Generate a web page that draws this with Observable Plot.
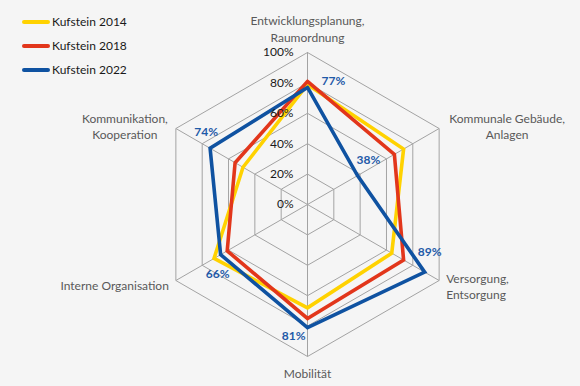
<!DOCTYPE html>
<html>
<head>
<meta charset="utf-8">
<script src="https://cdn.jsdelivr.net/npm/d3@7"></script>
<script src="https://cdn.jsdelivr.net/npm/@observablehq/plot@0.6"></script>
<style>
  html, body { margin: 0; padding: 0; background: #f5f5f5; }
  #wrap { position: relative; width: 580px; height: 386px; font-family: Lato, "Open Sans", sans-serif; }
  #legend { position: absolute; left: 0; top: 0; }
  .item { position: absolute; left: 22px; height: 16px; white-space: nowrap; font-size: 12px; color: #1a1a1a; }
  .item .sw { position: absolute; left: 0; top: 6px; width: 28px; height: 4px; border-radius: 2px; }
  .item .lb { position: absolute; left: 30px; top: 0; line-height: 16px; }
</style>
</head>
<body>
<div id="wrap"><div id="chart"></div><div id="legend"></div></div>
<script>
// ---- data ----
const axes = ["Entwicklungsplanung,\nRaumordnung", "Kommunale Gebäude,\nAnlagen", "Versorgung,\nEntsorgung", "Mobilität", "Interne Organisation", "Kommunikation,\nKooperation"];
const seriesNames = ["Kufstein 2014", "Kufstein 2018", "Kufstein 2022"];
const values2014 = [0.79, 0.73, 0.64, 0.68, 0.71, 0.49];
const values2018 = [0.81, 0.66, 0.73, 0.75, 0.61, 0.55];
const values2022 = [0.77, 0.38, 0.89, 0.81, 0.66, 0.74];
const tickValues = [0, 0.2, 0.4, 0.6, 0.8, 1.0];
const tickLabels = ["0%", "20%", "40%", "60%", "80%", "100%"];
const dataLabels2022 = ["77%", "38%", "89%", "81%", "66%", "74%"];

// ---- styles / layout ----
const colors = ["#ffd200", "#e2361b", "#0f52a1"];
const seriesValues = [values2014, values2018, values2022];
const W = 580, H = 386, CX = 307, CY = 204, R = 152;
// axis label placement (anchor, dx, dy, lineAnchor)
const axisLabelStyle = [
  {anchor: "middle", dx: 0, dy: -11, la: "bottom"},
  {anchor: "middle", dx: 68, dy: -3, la: "middle"},
  {anchor: "start", dx: 7, dy: 5, la: "middle"},
  {anchor: "middle", dx: 0, dy: 10, la: "top"},
  {anchor: "end", dx: -7, dy: 4, la: "middle"},
  {anchor: "middle", dx: -51, dy: -3, la: "middle"}
];
const dataLabelStyle = [
  {anchor: "start", dx: 14, dy: -6},
  {anchor: "start", dx: -1, dy: -15},
  {anchor: "middle", dx: 5, dy: -20},
  {anchor: "end", dx: -2, dy: 9},
  {anchor: "middle", dx: -3, dy: 19},
  {anchor: "middle", dx: -4, dy: -16}
];

const ang = i => i * Math.PI / 3;
const px = (i, r) => r * Math.sin(ang(i));
const py = (i, r) => r * Math.cos(ang(i));

// grid hexagons
const gridRings = tickValues.filter(t => t > 0).flatMap(t =>
  d3.range(7).map(k => ({t, x: px(k % 6, t), y: py(k % 6, t)})));
const spokes = axes.map((a, i) => ({x1: 0, y1: 0, x2: px(i, 1), y2: py(i, 1)}));
const seriesPts = seriesNames.flatMap((s, si) =>
  d3.range(7).map(k => ({s, x: px(k % 6, seriesValues[si][k % 6]), y: py(k % 6, seriesValues[si][k % 6])})));

const marks = [
  Plot.line(gridRings, {x: "x", y: "y", z: "t", stroke: "#a3a3a3", strokeWidth: 1}),
  Plot.link(spokes, {x1: "x1", y1: "y1", x2: "x2", y2: "y2", stroke: "#a3a3a3", strokeWidth: 1}),
  Plot.line(seriesPts, {x: "x", y: "y", z: "s", stroke: "s", strokeWidth: 3.6, strokeLinejoin: "miter", strokeMiterlimit: 10}),
  Plot.text(tickValues, {x: () => 0, y: d => d, text: (d, i) => tickLabels[i], textAnchor: "end", dx: -14, fill: "#1a1a1a", fontSize: 12})
];
axes.forEach((a, i) => {
  const st = axisLabelStyle[i];
  marks.push(Plot.text([a], {x: () => px(i, 1), y: () => py(i, 1), text: d => d, textAnchor: st.anchor, lineAnchor: st.la, dx: st.dx, dy: st.dy, fill: "#595959", fontSize: 12, lineHeight: 1.35}));
});
values2022.forEach((v, i) => {
  const st = dataLabelStyle[i];
  marks.push(Plot.text([dataLabels2022[i]], {x: () => px(i, v), y: () => py(i, v), text: d => d, textAnchor: st.anchor, dx: st.dx, dy: st.dy, fill: "#1f5aa8", fontSize: 12, fontWeight: "bold"}));
});

const chart = Plot.plot({
  width: W, height: H,
  margin: 0,
  style: {background: "#f5f5f5", fontFamily: "Lato, 'Open Sans', sans-serif"},
  x: {domain: [-CX / R, (W - CX) / R], axis: null},
  y: {domain: [-(H - CY) / R, CY / R], axis: null},
  color: {domain: seriesNames, range: colors},
  marks
});
document.getElementById("chart").appendChild(chart);

const legend = document.getElementById("legend");
seriesNames.forEach((s, i) => {
  const d = document.createElement("div");
  d.className = "item";
  d.style.top = (14 + i * 24) + "px";
  d.innerHTML = `<span class="sw" style="background:${colors[i]}"></span><span class="lb">${s}</span>`;
  legend.appendChild(d);
});
</script>
</body>
</html>
